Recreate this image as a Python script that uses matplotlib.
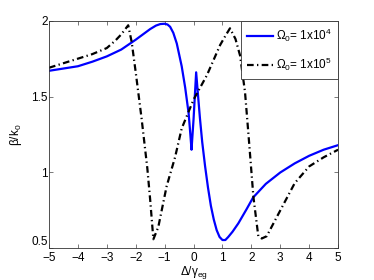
import numpy as np
import matplotlib
matplotlib.use("Agg")
import matplotlib.pyplot as plt

plt.rcParams['font.family'] = ['Liberation Sans', 'DejaVu Sans']
plt.rcParams['mathtext.fontset'] = 'custom'
plt.rcParams['mathtext.rm'] = 'Liberation Sans'
plt.rcParams['mathtext.it'] = 'Liberation Sans'
plt.rcParams['mathtext.default'] = 'regular'

# Omega_0 = 1x10^4 (blue solid)
x_blue = [-5, -4.5, -4, -3.5, -3, -2.5, -2, -1.5, -1.3, -1.15, -1.0, -0.9, -0.81, -0.7,
          -0.58, -0.41, -0.29, -0.17, -0.11, -0.07, 0.0, 0.09, 0.15, 0.22, 0.3, 0.4,
          0.5, 0.6, 0.7, 0.8, 0.9, 1.0, 1.1, 1.2, 1.35, 1.55, 1.84, 2.06, 2.5, 3.0,
          3.5, 4.0, 4.5, 5.0]
y_blue = [1.67, 1.685, 1.70, 1.73, 1.765, 1.81, 1.875, 1.945, 1.968, 1.978, 1.98, 1.975, 1.96, 1.92,
          1.85, 1.70, 1.56, 1.39, 1.25, 1.15, 1.35, 1.66, 1.52, 1.36, 1.20, 1.04,
          0.90, 0.78, 0.69, 0.62, 0.575, 0.555, 0.555, 0.575, 0.61, 0.665, 0.76, 0.835, 0.925, 1.0,
          1.06, 1.11, 1.15, 1.18]

# Omega_0 = 1x10^5 (black dash-dot)
x_black = [-5, -4.5, -4, -3.5, -3, -2.7, -2.5, -2.26, -2.14, -2.0, -1.8, -1.6, -1.5,
           -1.39, -1.22, -0.93, -0.64, -0.41, 0.0, 0.46, 0.92, 1.1, 1.26, 1.45, 1.61,
           1.78, 1.90, 2.07, 2.24, 2.36, 2.53, 3.0, 3.5, 4.0, 4.5, 5.0]
y_black = [1.69, 1.72, 1.75, 1.78, 1.82, 1.87, 1.91, 1.97, 1.86, 1.66, 1.36, 1.03, 0.82,
           0.56, 0.64, 0.91, 1.10, 1.29, 1.48, 1.64, 1.84, 1.90, 1.95, 1.88, 1.77,
           1.53, 1.25, 0.84, 0.58, 0.565, 0.58, 0.75, 0.93, 1.04, 1.10, 1.15]

xticks = [-5, -4, -3, -2, -1, 0, 1, 2, 3, 4, 5]
yticks = [0.5, 1, 1.5, 2]

fig = plt.figure(figsize=(3.74, 2.80), dpi=100)
ax = fig.add_axes([0.131, 0.113, 0.773, 0.813])

ax.plot(x_blue, y_blue, color='#0000ff', lw=1.6, label=r'$\Omega_0$= 1x10$^4$')
ax.plot(x_black, y_black, color='black', lw=1.6, linestyle=(0, (3, 1.5, 0.6, 1.5)),
        label=r'$\Omega_0$= 1x10$^5$')

ax.set_xlim(-5, 5)
ax.set_ylim(0.5, 2)
ax.set_xticks(xticks)
ax.set_yticks(yticks)
ax.set_xticklabels([str(t) if t >= 0 else '\u2212' + str(-t) for t in xticks])
ax.set_yticklabels(['0.5', '1', '1.5', '2'])
ax.tick_params(direction='in', length=3, width=0.5, top=True, right=True,
               labelsize=8.5, color='#444444')
ax.tick_params(axis='x', pad=2.5)
ax.tick_params(axis='y', pad=1)
ax.get_yticklabels()[0].set_va('bottom')
for s in ax.spines.values():
    s.set_linewidth(0.6)
    s.set_color('#333333')

ax.set_xlabel(r'$\Delta/\gamma_{eg}$', fontsize=8.5, labelpad=0)
ax.set_ylabel(r'$\beta/k_0$', fontsize=8.5, labelpad=5)

leg = ax.legend(loc='upper right', fontsize=8.5, fancybox=False, framealpha=1,
                edgecolor='#333333', borderaxespad=0, handlelength=2.2,
                handletextpad=0.3, borderpad=0.5, labelspacing=1.0)
leg.get_frame().set_linewidth(0.6)

fig.savefig('out.png', dpi=100)
